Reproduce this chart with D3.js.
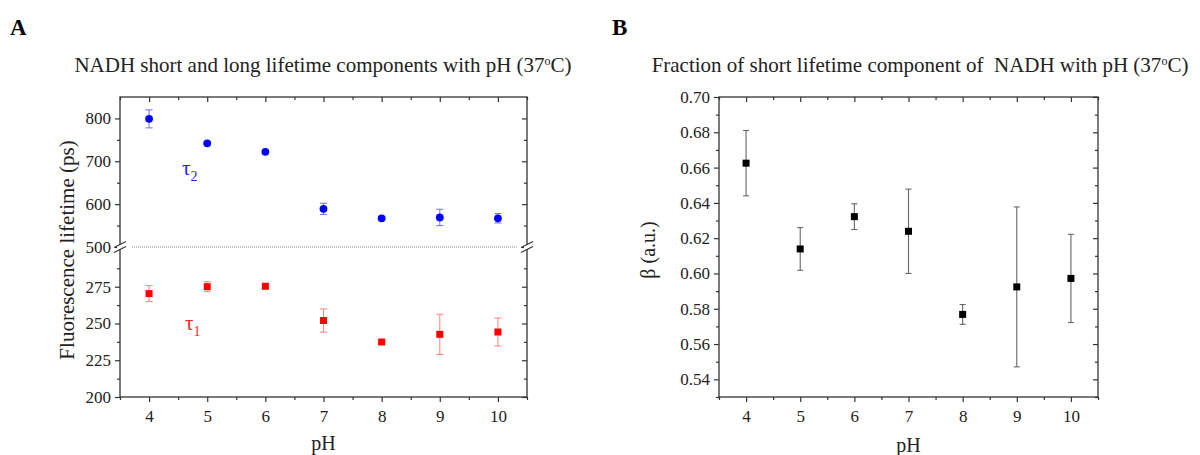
<html>
<head>
<meta charset="utf-8">
<title>NADH lifetime vs pH</title>
<script src="https://d3js.org/d3.v7.min.js"></script>
<style>
  body { margin: 0; background: #fff; }
  text { font-family: "Liberation Serif", "Times New Roman", serif; fill: #222; }
</style>
</head>
<body>
<script>
// data
var pH = [4, 5, 6, 7, 8, 9, 10];
var tau2 = [799, 742, 722, 589, 567, 569, 567];
var tau2Err = [21, 3, 3, 13, 4, 19, 11];
var tau1 = [270.3, 275, 275.3, 252, 237.4, 242.6, 244.2];
var tau1Err = [5.4, 3.4, 1.5, 7.9, 1, 13.7, 9.5];
var beta = [0.6625, 0.6139, 0.6322, 0.6239, 0.5768, 0.5924, 0.5972];
var betaErr = [0.0185, 0.0121, 0.0073, 0.0239, 0.0056, 0.0453, 0.025];

var xTicks = [4, 5, 6, 7, 8, 9, 10];
var xMinor = [3.5, 4.5, 5.5, 6.5, 7.5, 8.5, 9.5, 10.5];
var upTicks = [500, 600, 700, 800];
var upMinor = [550, 650, 750];
var lowTicks = [200, 225, 250, 275];
var lowMinor = [212.5, 237.5, 262.5, 287.5];
var betaTicks = [0.54, 0.56, 0.58, 0.60, 0.62, 0.64, 0.66, 0.68, 0.70];
var betaMinor = [0.53, 0.55, 0.57, 0.59, 0.61, 0.63, 0.65, 0.67, 0.69];

var width = 1200, height = 455;
var svg = d3.select("body").append("svg")
  .attr("width", width).attr("height", height);

var axisColor = "#333";

function styleAxis(g, labels) {
  g.select(".domain").remove();
  g.selectAll("line").attr("stroke", axisColor).attr("stroke-width", 1.2);
  g.selectAll("text").style("font-size", "17px").attr("fill", "#333");
  if (!labels) g.selectAll("text").remove();
}

// ---------- panel A ----------
var A = { left: 120, right: 527, top: 97, bottom: 397, brk: 247 };
var xA = d3.scaleLinear().domain([3.5, 10.5]).range([A.left, A.right]);
var yUp = d3.scaleLinear().domain([500, 850]).range([A.brk, A.top]);
var yLow = d3.scaleLinear().domain([200, 302]).range([A.bottom, A.brk]);

var gA = svg.append("g");

// bottom axis (out) + top mirror (in)
gA.append("g").attr("transform", "translate(0," + A.bottom + ")")
  .call(d3.axisBottom(xA).tickValues(xTicks).tickSize(5).tickPadding(8).tickFormat(d3.format("d")))
  .call(styleAxis, true);
gA.append("g").attr("transform", "translate(0," + A.bottom + ")")
  .call(d3.axisBottom(xA).tickValues(xMinor).tickSize(3)).call(styleAxis, false);
gA.append("g").attr("transform", "translate(0," + A.top + ")")
  .call(d3.axisBottom(xA).tickValues(xTicks).tickSize(5)).call(styleAxis, false);
gA.append("g").attr("transform", "translate(0," + A.top + ")")
  .call(d3.axisBottom(xA).tickValues(xMinor).tickSize(3)).call(styleAxis, false);

// left axis (out), right mirror (in)
[[A.left, true], [A.right, false]].forEach(function (p) {
  var tx = "translate(" + p[0] + ",0)";
  gA.append("g").attr("transform", tx)
    .call(d3.axisLeft(yUp).tickValues(upTicks).tickSize(5).tickPadding(4))
    .call(styleAxis, p[1]);
  gA.append("g").attr("transform", tx)
    .call(d3.axisLeft(yUp).tickValues(upMinor).tickSize(3)).call(styleAxis, false);
  gA.append("g").attr("transform", tx)
    .call(d3.axisLeft(yLow).tickValues(lowTicks).tickSize(5).tickPadding(4))
    .call(styleAxis, p[1]);
  gA.append("g").attr("transform", tx)
    .call(d3.axisLeft(yLow).tickValues(lowMinor).tickSize(3)).call(styleAxis, false);
});

// frame
gA.append("rect").attr("x", A.left).attr("y", A.top)
  .attr("width", A.right - A.left).attr("height", A.bottom - A.top)
  .attr("fill", "none").attr("stroke", axisColor).attr("stroke-width", 1.3);

// break marks
[A.left, A.right].forEach(function (x) {
  gA.append("rect").attr("x", x - 3).attr("y", A.brk - 2).attr("width", 6).attr("height", 4).attr("fill", "#fff");
  [-2.5, 2.5].forEach(function (dy) {
    gA.append("line")
      .attr("x1", x - 6).attr("y1", A.brk + dy + 3)
      .attr("x2", x + 6).attr("y2", A.brk + dy - 3)
      .attr("stroke", axisColor).attr("stroke-width", 1.1);
  });
});
gA.append("line")
  .attr("x1", A.left + 12).attr("x2", A.right - 10)
  .attr("y1", A.brk).attr("y2", A.brk)
  .attr("stroke", "#888").attr("stroke-width", 1).attr("stroke-dasharray", "1,1");

// error bars helper
function errBars(g, xs, ys, es, x, y, color, cap) {
  var eg = g.append("g").attr("stroke", color).attr("stroke-width", 1.1);
  xs.forEach(function (v, i) {
    var cx = x(v), y1 = y(ys[i] - es[i]), y2 = y(ys[i] + es[i]);
    eg.append("line").attr("x1", cx).attr("x2", cx).attr("y1", y1).attr("y2", y2);
    eg.append("line").attr("x1", cx - cap).attr("x2", cx + cap).attr("y1", y1).attr("y2", y1);
    eg.append("line").attr("x1", cx - cap).attr("x2", cx + cap).attr("y1", y2).attr("y2", y2);
  });
}

errBars(gA, pH, tau2, tau2Err, xA, yUp, "#7a7aff", 3.5);
errBars(gA, pH, tau1, tau1Err, xA, yLow, "#ff8a8a", 3.5);

gA.selectAll("circle.t2").data(pH).enter().append("circle")
  .attr("cx", function (d) { return xA(d); })
  .attr("cy", function (d, i) { return yUp(tau2[i]); })
  .attr("r", 3.9).attr("fill", "#0000ff");

gA.selectAll("rect.t1").data(pH).enter().append("rect")
  .attr("x", function (d) { return xA(d) - 3.5; })
  .attr("y", function (d, i) { return yLow(tau1[i]) - 3.5; })
  .attr("width", 7).attr("height", 7).attr("fill", "#ff0000");

// tau labels
var t2 = gA.append("text").attr("x", 182).attr("y", 175).style("font-size", "21px").style("fill", "#2323ff");
t2.append("tspan").text("τ");
t2.append("tspan").attr("dy", 6).style("font-size", "14px").text("2");
var t1 = gA.append("text").attr("x", 185).attr("y", 330).style("font-size", "21px").style("fill", "#ff2323");
t1.append("tspan").text("τ");
t1.append("tspan").attr("dy", 6).style("font-size", "14px").text("1");

// titles and labels
svg.append("text").attr("x", 10).attr("y", 35)
  .style("font-size", "23px").style("font-weight", "bold").style("fill", "#000").text("A");
var tA = svg.append("text").attr("x", 323).attr("y", 72).attr("text-anchor", "middle")
  .style("font-size", "21px");
tA.append("tspan").text("NADH short and long lifetime components with pH (37");
tA.append("tspan").attr("dy", -7).style("font-size", "12px").text("o");
tA.append("tspan").attr("dy", 7).text("C)");

svg.append("text").attr("transform", "translate(74,250) rotate(-90)")
  .attr("text-anchor", "middle").style("font-size", "21px").text("Fluorescence lifetime (ps)");
svg.append("text").attr("x", xA(7)).attr("y", 450).attr("text-anchor", "middle")
  .style("font-size", "20px").text("pH");

// ---------- panel B ----------
var B = { left: 719, right: 1098, top: 97, bottom: 397 };
var xB = d3.scaleLinear().domain([3.5, 10.5]).range([B.left, B.right]);
var yB = d3.scaleLinear().domain([0.53, 0.70]).range([B.bottom, B.top]);
var gB = svg.append("g");

gB.append("g").attr("transform", "translate(0," + B.bottom + ")")
  .call(d3.axisBottom(xB).tickValues(xTicks).tickSize(5).tickPadding(8).tickFormat(d3.format("d")))
  .call(styleAxis, true);
gB.append("g").attr("transform", "translate(0," + B.bottom + ")")
  .call(d3.axisBottom(xB).tickValues(xMinor).tickSize(3)).call(styleAxis, false);
gB.append("g").attr("transform", "translate(0," + B.top + ")")
  .call(d3.axisBottom(xB).tickValues(xTicks).tickSize(5)).call(styleAxis, false);
gB.append("g").attr("transform", "translate(0," + B.top + ")")
  .call(d3.axisBottom(xB).tickValues(xMinor).tickSize(3)).call(styleAxis, false);

[[B.left, true], [B.right, false]].forEach(function (p) {
  var tx = "translate(" + p[0] + ",0)";
  gB.append("g").attr("transform", tx)
    .call(d3.axisLeft(yB).tickValues(betaTicks).tickSize(5).tickPadding(4).tickFormat(d3.format(".2f")))
    .call(styleAxis, p[1]);
  gB.append("g").attr("transform", tx)
    .call(d3.axisLeft(yB).tickValues(betaMinor).tickSize(3)).call(styleAxis, false);
});

gB.append("rect").attr("x", B.left).attr("y", B.top)
  .attr("width", B.right - B.left).attr("height", B.bottom - B.top)
  .attr("fill", "none").attr("stroke", axisColor).attr("stroke-width", 1.3);

errBars(gB, pH, beta, betaErr, xB, yB, "#666", 3);

gB.selectAll("rect.b").data(pH).enter().append("rect")
  .attr("x", function (d) { return xB(d) - 3.5; })
  .attr("y", function (d, i) { return yB(beta[i]) - 3.5; })
  .attr("width", 7).attr("height", 7).attr("fill", "#000");

svg.append("text").attr("x", 612).attr("y", 35)
  .style("font-size", "23px").style("font-weight", "bold").style("fill", "#000").text("B");
var tB = svg.append("text").attr("x", 920).attr("y", 72).attr("text-anchor", "middle")
  .style("font-size", "21px").attr("xml:space", "preserve");
tB.append("tspan").text("Fraction of short lifetime component of \u00a0NADH with pH (37");
tB.append("tspan").attr("dy", -7).style("font-size", "12px").text("o");
tB.append("tspan").attr("dy", 7).text("C)");

svg.append("text").attr("transform", "translate(655,250) rotate(-90)")
  .attr("text-anchor", "middle").style("font-size", "20px").text("β (a.u.)");
svg.append("text").attr("x", xB(7)).attr("y", 452).attr("text-anchor", "middle")
  .style("font-size", "20px").text("pH");
</script>
</body>
</html>
